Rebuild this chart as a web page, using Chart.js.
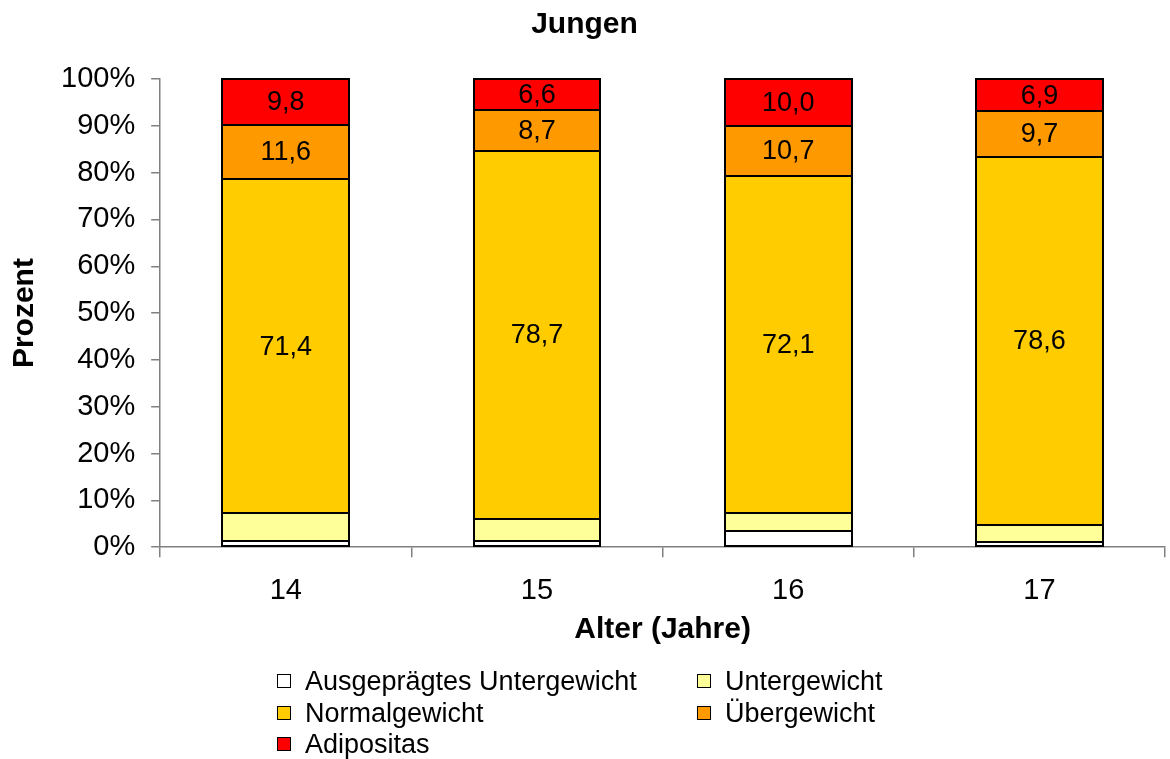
<!DOCTYPE html>
<html>
<head>
<meta charset="utf-8">
<script src="https://cdn.jsdelivr.net/npm/chart.js@4.4.1/dist/chart.umd.min.js"></script>
<style>
  html, body { margin: 0; padding: 0; background: #fff; }
  #wrap { position: relative; width: 1170px; height: 759px; }
  #legend { position: absolute; left: 0; top: 0; width: 1170px; height: 759px; pointer-events: none;
            font-family: "Liberation Sans", Arial, sans-serif; font-size: 27px; color: #000; }
  .item { position: absolute; display: flex; align-items: center; white-space: nowrap; }
  .box { width: 12px; height: 12px; border: 1.5px solid #000; margin-right: 14px; }
</style>
</head>
<body>
<div id="wrap">
  <canvas id="c" width="1170" height="759"></canvas>
  <div id="legend"></div>
</div>
<script>
const categories = ['14', '15', '16', '17'];
const seriesNames = ['Ausgeprägtes Untergewicht', 'Untergewicht', 'Normalgewicht', 'Übergewicht', 'Adipositas'];
const ausgepraegtesUntergewicht = [1.4, 1.4, 3.5, 1.1];
const untergewicht = [5.8, 4.6, 3.7, 3.7];
const normalgewicht = [71.4, 78.7, 72.1, 78.6];
const uebergewicht = [11.6, 8.7, 10.7, 9.7];
const adipositas = [9.8, 6.6, 10.0, 6.9];
const seriesColors = ['#FFFFFF', '#FFFF99', '#FFCC00', '#FF9900', '#FF0000'];
const labeledSeries = [2, 3, 4];
const yTicks = [0, 10, 20, 30, 40, 50, 60, 70, 80, 90, 100];

const values = [ausgepraegtesUntergewicht, untergewicht, normalgewicht, uebergewicht, adipositas];
const FONT = '"Liberation Sans", Arial, sans-serif';

// crisp black outline around every bar segment, from the library's bar elements
const outlines = {
  id: 'outlines',
  afterDatasetsDraw(chart) {
    const ctx = chart.ctx;
    ctx.save();
    ctx.strokeStyle = '#000';
    ctx.lineWidth = 2;
    chart.data.datasets.forEach((ds, di) => {
      chart.getDatasetMeta(di).data.forEach(el => {
        const p = el.getProps(['x', 'y', 'base', 'width'], true);
        const l = Math.round(p.x - p.width / 2), r = Math.round(p.x + p.width / 2);
        const t = Math.round(Math.min(p.y, p.base)), b = Math.round(Math.max(p.y, p.base));
        ctx.strokeRect(l, t, r - l, b - t);
      });
    });
    ctx.restore();
  }
};

const dataLabels = {
  id: 'dataLabels',
  afterDatasetsDraw(chart) {
    const ctx = chart.ctx;
    ctx.save();
    ctx.font = '27px ' + FONT;
    ctx.fillStyle = '#000';
    ctx.textAlign = 'center';
    ctx.textBaseline = 'middle';
    labeledSeries.forEach(di => {
      const meta = chart.getDatasetMeta(di);
      meta.data.forEach((el, i) => {
        const v = chart.data.datasets[di].data[i];
        const y = (el.y + el.base) / 2;
        ctx.fillText(v.toFixed(1).replace('.', ','), el.x, y + 1);
      });
    });
    ctx.restore();
  }
};

const chart = new Chart(document.getElementById('c'), {
  type: 'bar',
  data: {
    labels: categories,
    datasets: values.map((arr, i) => ({
      label: seriesNames[i],
      data: arr,
      backgroundColor: seriesColors[i],
      borderWidth: 0,
      inflateAmount: 0,
      barPercentage: 0.505,
      categoryPercentage: 1.0
    }))
  },
  options: {
    responsive: false,
    animation: false,
    devicePixelRatio: 1,
    layout: { padding: { left: 4, right: 5, top: 0, bottom: 111 } },
    plugins: {
      legend: { display: false },
      tooltip: { enabled: false },
      title: {
        display: true,
        text: 'Jungen',
        color: '#000',
        font: { family: FONT, size: 30, weight: 'bold' },
        padding: { top: 7, bottom: 36 }
      }
    },
    scales: {
      x: {
        stacked: true,
        offset: true,
        grid: { display: true, drawOnChartArea: false, drawTicks: true, tickLength: 10, color: '#808080', lineWidth: 1.5, offset: true },
        border: { display: true, color: '#808080', width: 1.5 },
        ticks: { color: '#000', font: { family: FONT, size: 29 }, padding: 16 },
        title: { display: true, text: 'Alter (Jahre)', color: '#000', font: { family: FONT, size: 30, weight: 'bold' }, padding: { top: -12, bottom: 0 } }
      },
      y: {
        stacked: true,
        min: 0,
        max: 100,
        afterBuildTicks(scale) { scale.ticks = yTicks.map(v => ({ value: v })); },
        grid: { display: true, drawOnChartArea: false, drawTicks: true, tickLength: 9, color: '#808080', lineWidth: 1.5 },
        border: { display: true, color: '#808080', width: 1.5 },
        ticks: { color: '#000', font: { family: FONT, size: 29 }, padding: 16, callback: v => v + '%' },
        title: { display: true, text: 'Prozent', color: '#000', font: { family: FONT, size: 30, weight: 'bold' }, padding: { top: 3, bottom: 2 } }
      }
    }
  },
  plugins: [outlines, dataLabels]
});

// HTML legend built from the series
const legendPos = [
  { left: 277, top: 681 }, { left: 697, top: 681 },
  { left: 277, top: 713 }, { left: 697, top: 713 },
  { left: 277, top: 744 }
];
const legendEl = document.getElementById('legend');
seriesNames.forEach((name, i) => {
  const it = document.createElement('div');
  it.className = 'item';
  it.style.left = legendPos[i].left + 'px';
  it.style.top = (legendPos[i].top - 16) + 'px';
  it.style.height = '32px';
  const b = document.createElement('div');
  b.className = 'box';
  b.style.background = seriesColors[i];
  const t = document.createElement('span');
  t.textContent = name;
  it.appendChild(b);
  it.appendChild(t);
  legendEl.appendChild(it);
});
</script>
</body>
</html>
